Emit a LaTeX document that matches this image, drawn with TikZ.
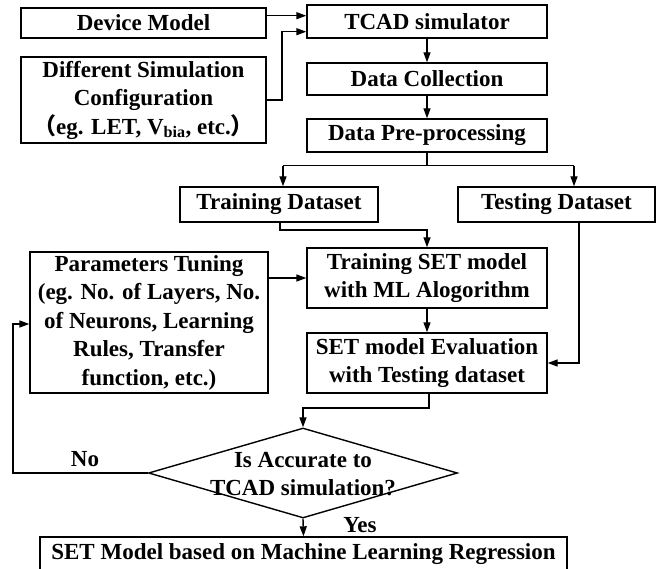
\documentclass[tikz,border=0pt]{standalone}
\usepackage{fontspec}
\setmainfont{Liberation Serif}
\newfontfamily\cjk{Noto Sans CJK SC}
\usetikzlibrary{arrows.meta,shapes.geometric,calc}
\begin{document}
\begin{tikzpicture}[x=1pt,y=-1pt,
  font=\fontsize{23}{28.5}\selectfont\bfseries,
  box/.style={draw,line width=1.4pt,inner sep=0pt,align=center},
  lab/.style={inner sep=0pt},
  arr/.style={line width=1.4pt,-{Triangle[length=10pt,width=7pt]}},
  ln/.style={line width=1.4pt}]
\useasboundingbox (0,0) rectangle (658,569);
\clip (0,0) rectangle (658,569);
% boxes
\node[box,minimum width=245pt,minimum height=30pt] (dm) at (143.5,23) {Device Model};
\node[box,minimum width=245pt,minimum height=86pt] (cfg) at (143.5,100) {Different Simulation\\Configuration\\{\cjk （}eg. LET, V\textsubscript{bia}, etc.{\cjk ）}};
\node[box,minimum width=240pt,minimum height=33pt] (tcad) at (427,21.5) {TCAD simulator};
\node[box,minimum width=240pt,minimum height=32pt] (dc) at (427,79) {Data Collection};
\node[box,minimum width=240pt,minimum height=33pt] (pre) at (427,135.5) {Data Pre-processing};
\node[box,minimum width=198pt,minimum height=35pt] (trd) at (279,204.5) {Training Dataset};
\node[box,minimum width=197pt,minimum height=35pt] (ted) at (556.5,204.5) {Testing Dataset};
\node[box,minimum width=240pt,minimum height=60pt] (tset) at (427,278) {Training SET model\\with ML Alogorithm};
\node[box,minimum width=240pt,minimum height=60pt] (eval) at (427,363) {SET model Evaluation\\with Testing dataset};
\node[box,minimum width=238pt,minimum height=141pt] (par) at (149,322.5) {Parameters Tuning\\(eg. No. of Layers, No.\\of Neurons, Learning\\Rules, Transfer\\function, etc.)};
\node[draw,diamond,line width=1.4pt,inner sep=0pt,minimum width=309pt,minimum height=90pt] (dia) at (303,473) {};
\node[lab,align=center] (diat) at (303,474) {Is Accurate to\\TCAD simulation?};
\node[box,minimum width=527pt,minimum height=35pt] (fin) at (303.5,554.5) {SET Model based on Machine Learning Regression};
% labels
\node[lab] (no) at (85,459) {No};
\node[lab] (yes) at (360,525) {Yes};
% connector helpers
\coordinate (c1) at (282,0);
\coordinate (c2) at (0,165.7);
\coordinate (c3) at (0,230);
\coordinate (c4) at (0,408);
\coordinate (c5) at (13,0);
% connectors
\draw[arr] ([yshift=7.3pt]dm.east) -- ([yshift=7.3pt]dm.east -| tcad.west);
\draw[arr] (cfg.east) -- (cfg.east -| c1) -- ([yshift=-10.2pt]tcad.west -| c1) -- ([yshift=-10.2pt]tcad.west);
\draw[arr] (tcad.south) -- (dc.north);
\draw[arr] (dc.south) -- (pre.north);
\draw[ln] (pre.south) -- (pre.south |- c2);
\draw[arr] (283,165.7) coordinate (s1) -- (s1 |- trd.north);
\draw[arr] (574,165.7) coordinate (s2) -- (s2 |- ted.north);
\draw[ln] (s1) -- (s2);
\draw[arr] ([xshift=1pt]trd.south) -- ([xshift=1pt]trd.south |- c3) -- (tset.north |- c3) -- (tset.north);
\draw[arr] (par.east |- tset.west) -- (tset.west);
\draw[arr] (tset.south) -- (eval.north);
\draw[arr] ([xshift=22.5pt]ted.south) -- ([xshift=22.5pt]ted.south |- eval.east) -- (eval.east);
\draw[arr] ([xshift=2pt]eval.south) -- ([xshift=2pt]eval.south |- c4) -- (dia.north |- c4) -- (dia.north);
\draw[arr] (dia.west) -- (dia.west -| c5) -- ([yshift=-1.5pt]par.west -| c5) -- ([yshift=-1.5pt]par.west);
\draw[arr] (dia.south) -- (fin.north);
\end{tikzpicture}
\end{document}
